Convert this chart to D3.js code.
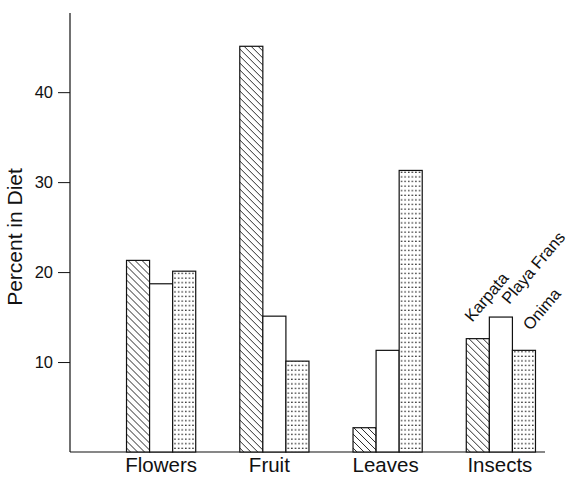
<!DOCTYPE html>
<html>
<head>
<meta charset="utf-8">
<script src="https://cdn.jsdelivr.net/npm/d3@7"></script>
<style>
  html, body { margin: 0; padding: 0; background: #fff; }
  svg { display: block; font-family: "Liberation Sans", Arial, Helvetica, sans-serif; }
</style>
</head>
<body>
<svg id="chart" width="572" height="477"></svg>
<script>
// Diet composition by food type at three sites
const categories = ["Flowers", "Fruit", "Leaves", "Insects"];
const sites = ["Karpata", "Playa Frans", "Onima"];
const karpata = [21.3, 45.1, 2.7, 12.6];
const playaFrans = [18.7, 15.1, 11.3, 15.0];
const onima = [20.1, 10.1, 31.3, 11.3];
const yTicks = [10, 20, 30, 40];

const seriesValues = [karpata, playaFrans, onima];

const svg = d3.select("#chart");
const defs = svg.append("defs");

// Diagonal hatching for Karpata
const hatch = defs.append("pattern")
  .attr("id", "hatch")
  .attr("patternUnits", "userSpaceOnUse")
  .attr("width", 7).attr("height", 7);
hatch.append("rect").attr("width", 7).attr("height", 7).attr("fill", "#fff");
hatch.append("path")
  .attr("d", "M-1,-1 L8,8 M-1,6 L1,8 M6,-1 L8,1")
  .attr("stroke", "#111").attr("stroke-width", 0.9);

// Stipple for Onima
const dots = defs.append("pattern")
  .attr("id", "dots")
  .attr("patternUnits", "userSpaceOnUse")
  .attr("width", 3.6).attr("height", 4.6);
dots.append("rect").attr("width", 3.6).attr("height", 4.6).attr("fill", "#fff");
dots.append("rect").attr("x", 1).attr("y", 1.5).attr("width", 1.4).attr("height", 1.2).attr("fill", "#111");

const fills = ["url(#hatch)", "#fff", "url(#dots)"];

const y = d3.scaleLinear().domain([0, 48.8]).range([452, 13]);
const x0 = d3.scaleBand().domain(categories).range([105, 557]).paddingInner(0.389).paddingOuter(0.19);
const x1 = d3.scaleBand().domain(sites).range([0, x0.bandwidth()]);

// Y axis
const yAxis = d3.axisLeft(y).tickValues(yTicks).tickSize(12).tickPadding(5).tickFormat(d3.format("d"));
const gy = svg.append("g").attr("transform", "translate(70,0)").call(yAxis);
gy.select(".domain").attr("d", `M0,${y(48.8)}V${y(0)}`).attr("stroke", "#111").attr("stroke-width", 1.2);
gy.selectAll(".tick line").attr("stroke", "#111").attr("stroke-width", 1);
gy.selectAll(".tick text").attr("font-size", 16.5).attr("fill", "#111")
  .attr("font-family", "\"Liberation Sans\", Arial, sans-serif");

// Baseline
svg.append("line")
  .attr("x1", 70).attr("x2", 545)
  .attr("y1", y(0)).attr("y2", y(0))
  .attr("stroke", "#111").attr("stroke-width", 1.2);

// Bars
const groups = svg.append("g").selectAll("g")
  .data(categories)
  .join("g")
  .attr("transform", d => `translate(${x0(d)},0)`);

groups.selectAll("rect")
  .data((c, ci) => sites.map((s, si) => ({ site: s, si, value: seriesValues[si][ci] })))
  .join("rect")
  .attr("x", d => x1(d.site))
  .attr("y", d => y(d.value))
  .attr("width", x1.bandwidth())
  .attr("height", d => y(0) - y(d.value))
  .attr("fill", d => fills[d.si])
  .attr("stroke", "#111")
  .attr("stroke-width", 1.2);

// Category labels
const labelNudge = [0, -5, -2, -1];
svg.append("g").selectAll("text")
  .data(categories)
  .join("text")
  .attr("x", (d, i) => x0(d) + x0.bandwidth() / 2 + labelNudge[i])
  .attr("y", 472)
  .attr("text-anchor", "middle")
  .attr("font-size", 20.5)
  .attr("fill", "#111")
  .text(d => d);

// Y axis title
svg.append("text")
  .attr("transform", "translate(22,237) rotate(-90)")
  .attr("text-anchor", "middle")
  .attr("font-size", 21)
  .attr("fill", "#111")
  .text("Percent in Diet");

// Site labels above the Insects bars
const last = categories.length - 1;
const labelOffsets = [[6, -16], [20, -12], [18, -19]];
svg.append("g").selectAll("text")
  .data(sites)
  .join("text")
  .attr("transform", (s, i) => {
    const bx = x0(categories[last]) + x1(s) + labelOffsets[i][0];
    const by = y(seriesValues[i][last]) + labelOffsets[i][1];
    return `translate(${bx},${by}) rotate(-50)`;
  })
  .attr("font-size", 16.5)
  .attr("fill", "#111")
  .text(s => s);
</script>
</body>
</html>
